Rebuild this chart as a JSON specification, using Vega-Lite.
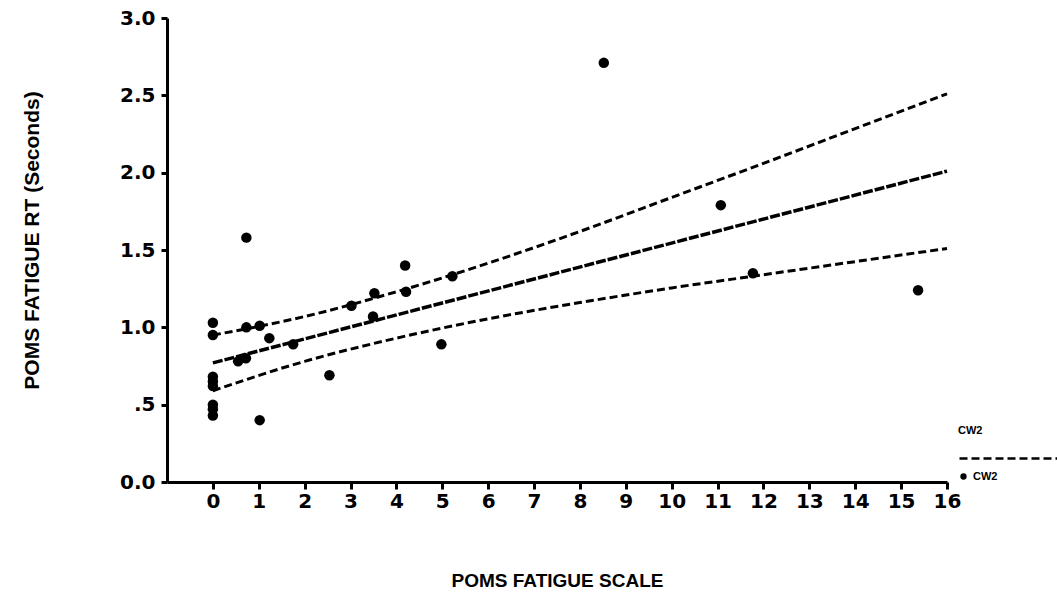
{
  "$schema": "https://vega.github.io/schema/vega-lite/v6.json",
  "autosize": {"type": "none"},
  "width": 780,
  "height": 464,
  "padding": {"left": 167, "top": 18, "right": 110, "bottom": 118},
  "background": "white",
  "config": {
    "view": {"stroke": null},
    "axis": {
      "grid": false,
      "domainColor": "black",
      "domainWidth": 3,
      "tickColor": "black",
      "tickWidth": 3,
      "labelColor": "black",
      "labelFont": "DejaVu Sans",
      "labelFontWeight": "bold",
      "labelFontSize": 20,
      "titleFont": "Liberation Sans",
      "titleFontWeight": "bold",
      "titleFontSize": 19,
      "titleColor": "black"
    }
  },
  "datasets": {
    "points": [
      {"fatigue": 0, "rt": 1.03, "group": "CW2"},
      {"fatigue": 0, "rt": 0.95, "group": "CW2"},
      {"fatigue": 0, "rt": 0.68, "group": "CW2"},
      {"fatigue": 0, "rt": 0.65, "group": "CW2"},
      {"fatigue": 0, "rt": 0.62, "group": "CW2"},
      {"fatigue": 0, "rt": 0.50, "group": "CW2"},
      {"fatigue": 0, "rt": 0.47, "group": "CW2"},
      {"fatigue": 0, "rt": 0.43, "group": "CW2"},
      {"fatigue": 0.55, "rt": 0.78, "group": "CW2"},
      {"fatigue": 0.72, "rt": 0.80, "group": "CW2"},
      {"fatigue": 0.73, "rt": 1.00, "group": "CW2"},
      {"fatigue": 1.02, "rt": 1.01, "group": "CW2"},
      {"fatigue": 1.23, "rt": 0.93, "group": "CW2"},
      {"fatigue": 1.02, "rt": 0.40, "group": "CW2"},
      {"fatigue": 0.73, "rt": 1.58, "group": "CW2"},
      {"fatigue": 1.75, "rt": 0.89, "group": "CW2"},
      {"fatigue": 2.54, "rt": 0.69, "group": "CW2"},
      {"fatigue": 3.02, "rt": 1.14, "group": "CW2"},
      {"fatigue": 3.49, "rt": 1.07, "group": "CW2"},
      {"fatigue": 3.52, "rt": 1.22, "group": "CW2"},
      {"fatigue": 4.19, "rt": 1.40, "group": "CW2"},
      {"fatigue": 4.21, "rt": 1.23, "group": "CW2"},
      {"fatigue": 4.98, "rt": 0.89, "group": "CW2"},
      {"fatigue": 5.22, "rt": 1.33, "group": "CW2"},
      {"fatigue": 8.52, "rt": 2.71, "group": "CW2"},
      {"fatigue": 11.07, "rt": 1.79, "group": "CW2"},
      {"fatigue": 11.77, "rt": 1.35, "group": "CW2"},
      {"fatigue": 15.37, "rt": 1.24, "group": "CW2"}
    ],
    "curves": [
      {"fatigue": 0, "rt": 0.77, "curve": "fit", "series": "CW2"},
      {"fatigue": 16, "rt": 2.01, "curve": "fit", "series": "CW2"},
      {"fatigue": 0, "rt": 0.95, "curve": "upper", "series": "CW2"},
      {"fatigue": 2, "rt": 1.07, "curve": "upper", "series": "CW2"},
      {"fatigue": 4, "rt": 1.23, "curve": "upper", "series": "CW2"},
      {"fatigue": 6, "rt": 1.415, "curve": "upper", "series": "CW2"},
      {"fatigue": 8, "rt": 1.62, "curve": "upper", "series": "CW2"},
      {"fatigue": 10, "rt": 1.84, "curve": "upper", "series": "CW2"},
      {"fatigue": 12, "rt": 2.06, "curve": "upper", "series": "CW2"},
      {"fatigue": 14, "rt": 2.285, "curve": "upper", "series": "CW2"},
      {"fatigue": 16, "rt": 2.51, "curve": "upper", "series": "CW2"},
      {"fatigue": 0, "rt": 0.59, "curve": "lower", "series": "CW2"},
      {"fatigue": 2, "rt": 0.78, "curve": "lower", "series": "CW2"},
      {"fatigue": 4, "rt": 0.93, "curve": "lower", "series": "CW2"},
      {"fatigue": 6, "rt": 1.055, "curve": "lower", "series": "CW2"},
      {"fatigue": 8, "rt": 1.16, "curve": "lower", "series": "CW2"},
      {"fatigue": 10, "rt": 1.255, "curve": "lower", "series": "CW2"},
      {"fatigue": 12, "rt": 1.34, "curve": "lower", "series": "CW2"},
      {"fatigue": 14, "rt": 1.425, "curve": "lower", "series": "CW2"},
      {"fatigue": 16, "rt": 1.51, "curve": "lower", "series": "CW2"}
    ]
  },
  "encoding": {
    "x": {
      "field": "fatigue",
      "type": "quantitative",
      "scale": {"domain": [-1, 16], "nice": false, "zero": false},
      "axis": {
        "title": "POMS FATIGUE SCALE",
        "values": [0, 1, 2, 3, 4, 5, 6, 7, 8, 9, 10, 11, 12, 13, 14, 15, 16],
        "format": "d",
        "tickSize": 7,
        "labelPadding": 2,
        "titlePadding": 60,
        "labelFlush": false,
        "labelOverlap": false
      }
    },
    "y": {
      "field": "rt",
      "type": "quantitative",
      "scale": {"domain": [0, 3], "nice": false},
      "axis": {
        "title": "POMS FATIGUE RT (Seconds)",
        "values": [0, 0.5, 1, 1.5, 2, 2.5, 3],
        "labelExpr": "datum.value == 0.5 ? '.5' : format(datum.value, '.1f')",
        "tickSize": 6,
        "labelPadding": 6,
        "titlePadding": 77,
        "titleFontSize": 21,
        "titleY": 222,
        "labelFlush": false,
        "labelOverlap": false
      }
    }
  },
  "layer": [
    {
      "data": {"name": "curves"},
      "transform": [{"filter": "datum.curve == 'fit'"}],
      "mark": {"type": "line", "color": "black", "strokeWidth": 3.5, "strokeDash": [10, 2]},
      "encoding": {}
    },
    {
      "data": {"name": "curves"},
      "transform": [{"filter": "datum.curve != 'fit'"}],
      "mark": {"type": "line", "color": "black", "strokeWidth": 3, "interpolate": "monotone"},
      "encoding": {
        "detail": {"field": "curve"},
        "strokeDash": {
          "field": "series",
          "type": "nominal",
          "scale": {"range": [[8, 4]]},
          "legend": {
            "title": null,
            "orient": "none",
            "legendX": 791,
            "legendY": 389,
            "padding": 0,
            "labelExpr": "''",
            "labelFontSize": 1,
            "symbolType": "M-1,0L1,0",
            "symbolSize": 10000,
            "symbolStrokeWidth": 2.5,
            "symbolStrokeColor": "black",
            "symbolDash": [6, 3],
            "symbolOpacity": 1
          }
        }
      }
    },
    {
      "data": {"name": "points"},
      "mark": {"type": "circle", "size": 110, "opacity": 1},
      "encoding": {
        "color": {
          "field": "group",
          "type": "nominal",
          "scale": {"range": ["black"]},
          "legend": {
            "title": "CW2",
            "orient": "none",
            "legendX": 791,
            "legendY": 407,
            "padding": 0,
            "titleFont": "Liberation Sans",
            "titleFontSize": 11,
            "titleFontWeight": "bold",
            "titleColor": "black",
            "titlePadding": 35,
            "labelFont": "Liberation Sans",
            "labelFontSize": 11,
            "labelFontWeight": "bold",
            "labelColor": "black",
            "symbolType": "circle",
            "symbolSize": 40,
            "symbolOpacity": 1
          }
        }
      }
    }
  ]
}
